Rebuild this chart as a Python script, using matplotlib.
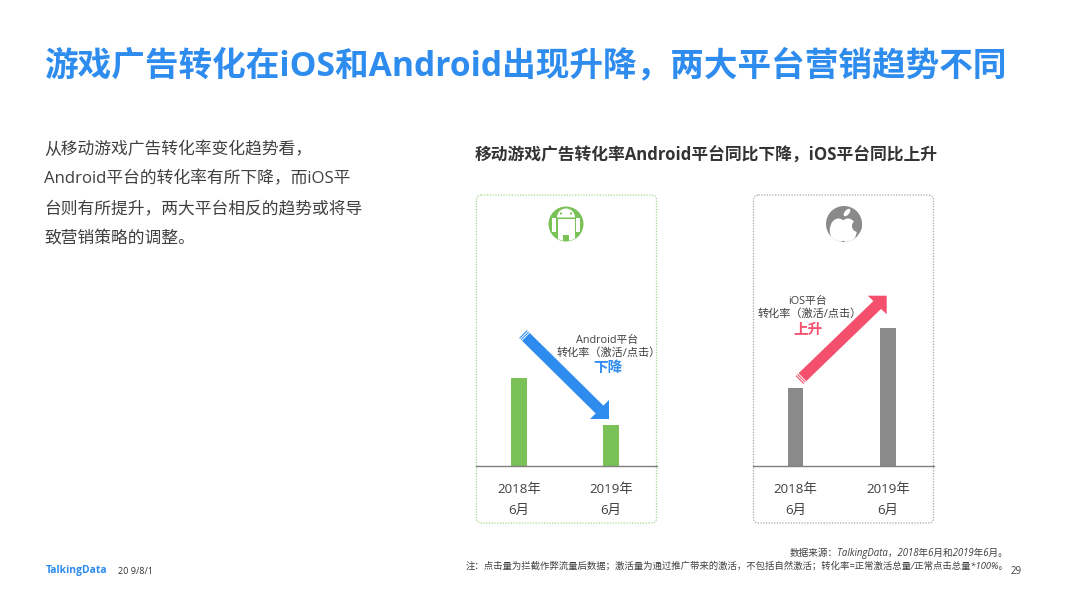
import matplotlib
matplotlib.use("Agg")
import matplotlib.pyplot as plt
from matplotlib.patches import FancyBboxPatch, Circle, Polygon, Rectangle, Ellipse, Wedge
import numpy as np

plt.rcParams['font.family'] = ['Open Sans', 'Noto Sans CJK SC', 'DejaVu Sans']

W, H = 1066, 599
title = "游戏广告转化在iOS和Android出现升降，两大平台营销趋势不同"
chart_title = "移动游戏广告转化率Android平台同比下降，iOS平台同比上升"
body_lines = ["从移动游戏广告转化率变化趋势看，",
              "Android平台的转化率有所下降，而iOS平",
              "台则有所提升，两大平台相反的趋势或将导",
              "致营销策略的调整。"]
periods = ["2018年\n6月", "2019年\n6月"]
android_values = [88, 41]
ios_values = [78, 138]
source_lines = ["数据来源：TalkingData，2018年6月和2019年6月。",
                "注：点击量为拦截作弊流量后数据；激活量为通过推广带来的激活，不包括自然激活；转化率=正常激活总量/正常点击总量*100%。"]

BLUE = "#2E8CEE"
GREEN = "#7AC257"
GRAY = "#8A8A8A"
RED = "#F4506E"
TEXT = "#404040"

fig = plt.figure(figsize=(W/100, H/100), dpi=100, facecolor="white")

def add_bar_axes(x0, x1, c0, c1, bw, values, color):
    top, base = 195, 466
    ax = fig.add_axes([x0/W, 1-base/H, (x1-x0)/W, (base-top)/H], facecolor="none", zorder=2)
    u = c1-c0
    ax.bar([0, 1], values, width=bw/u, color=color, linewidth=0)
    ax.set_xlim((x0-c0)/u, (x1-c0)/u)
    ax.set_ylim(0, base-top)
    ax.set_xticks([0, 1], periods, fontsize=9.6, color=TEXT, linespacing=1.78)
    ax.tick_params(axis='x', length=0, pad=12)
    ax.set_yticks([])
    for s in ['top', 'left', 'right']:
        ax.spines[s].set_visible(False)
    ax.spines['bottom'].set_color("#7F7F7F")
    ax.spines['bottom'].set_linewidth(1.0)
    return ax

add_bar_axes(476, 657, 519, 611, 16, android_values, GREEN)
add_bar_axes(753, 934, 795.5, 888, 15.5, ios_values, GRAY)

ov = fig.add_axes([0, 0, 1, 1], facecolor="none", zorder=1)
ov.set_xlim(0, W); ov.set_ylim(H, 0); ov.axis('off')
top = fig.add_axes([0, 0, 1, 1], facecolor="none", zorder=3)
top.set_xlim(0, W); top.set_ylim(H, 0); top.axis('off')

for x0, x1, ec in [(476.5, 656.5, "#A5D68C"), (753.5, 933.5, "#A6A6A6")]:
    ov.add_patch(FancyBboxPatch((x0+4, 199), x1-x0-8, 320, boxstyle="round,pad=4,rounding_size=5",
                                fc="white", ec=ec, lw=0.9, ls=(0, (1, 1.2))))

ov.text(44.5, 66, title, fontsize=24.2, fontweight='bold', color=BLUE, va='center', ha='left')
top.text(474.5, 156, chart_title, fontsize=12.1, fontweight='bold', color="#333333", va='center')
for line, y in zip(body_lines, [150, 179, 210, 240]):
    ov.text(44.5, y, line, fontsize=12.1, color=TEXT, va='center')

def arrow(start, tip, c1, c2, sw, color):
    start, tip, c1, c2 = map(np.array, (start, tip, c1, c2))
    mid = (c1+c2)/2
    d = (mid-start)/np.linalg.norm(mid-start)
    n = np.array([-d[1], d[0]])
    pts = [start+n*sw/2, mid+n*sw/2, c2 if np.dot(c2-mid, n) > 0 else c1, tip,
           c1 if np.dot(c2-mid, n) > 0 else c2, mid-n*sw/2, start-n*sw/2]
    top.add_patch(Polygon(pts, closed=True, fc=color, ec="none"))
    for k in (1.6, 3.6):
        p = start+d*k
        top.plot(*zip(p+n*sw/2, p-n*sw/2), color="white", lw=0.7)

arrow((523, 334), (609, 419), (590, 419), (609, 400), 11, BLUE)
arrow((799.5, 380), (886.7, 295.7), (867.7, 295.7), (886.7, 314.3), 11, RED)

top.text(607.5, 340, "Android平台", fontsize=7.8, color=TEXT, ha='center', va='center')
top.text(608.5, 353, "转化率（激活/点击）", fontsize=8, color=TEXT, ha='center', va='center')
top.text(607.5, 368, "下降", fontsize=10.5, fontweight='bold', color=BLUE, ha='center', va='center')
top.text(808, 301.5, "iOS平台", fontsize=7.8, color=TEXT, ha='center', va='center')
top.text(810, 314.5, "转化率（激活/点击）", fontsize=8, color=TEXT, ha='center', va='center')
top.text(808, 329.5, "上升", fontsize=10.5, fontweight='bold', color=RED, ha='center', va='center')

# Android icon
cx, cy = 566, 224
ov.add_patch(Circle((cx, cy), 17.5, fc=GREEN, ec="none", zorder=3))
android_clip = Circle((cx, cy), 17, transform=ov.transData)
ov.add_patch(Wedge((cx, cy-6.5), 9, 180, 0, fc="white", ec="none", zorder=4))
ov.add_patch(Rectangle((cx-8.5, cy-5), 17, 16, fc="white", ec="none", zorder=4))
ov.add_patch(Rectangle((cx-14, cy-6), 4, 14, fc="white", ec="none", zorder=4))
ov.add_patch(Rectangle((cx+10, cy-6), 4, 14, fc="white", ec="none", zorder=4))
for lx in (cx-8.5, cx+3):
    leg = Rectangle((lx, cy+10), 5.5, 8, fc="white", ec="none", zorder=4)
    ov.add_patch(leg); leg.set_clip_path(android_clip)
for dx in (-5, 5):
    ov.add_patch(Circle((cx+dx, cy-10.5), 1.1, fc=GREEN, ec="none", zorder=5))

# Apple icon
cx, cy = 844, 224
ov.add_patch(Circle((cx, cy), 18, fc=GRAY, ec="none", zorder=3))
clip = Circle((cx, cy), 18, transform=ov.transData)
for patch in [Ellipse((cx-5.5, cy+6.5), 17.5, 24), Ellipse((cx+4, cy+6.5), 17.5, 24)]:
    patch.set(fc="white", ec="none", zorder=4)
    ov.add_patch(patch); patch.set_clip_path(clip)
bite = Circle((cx+14, cy+2), 6, fc=GRAY, ec="none", zorder=5)
ov.add_patch(bite); bite.set_clip_path(clip)
ov.add_patch(Ellipse((cx+3, cy-11.5), 4.5, 9, angle=40, fc="white", ec="none", zorder=5))

ov.text(1008, 553.5, source_lines[0], fontsize=6.9, style='italic', color=TEXT, ha='right', va='center')
ov.text(1008, 565.5, source_lines[1], fontsize=6.75, style='italic', color=TEXT, ha='right', va='center')
ov.text(1016, 571, "29", fontsize=7, color=TEXT, ha='center', va='center')
ov.text(46, 571, "TalkingData", fontsize=7.5, fontweight='bold', color=BLUE, va='center')
ov.text(118, 571, "20 9/8/1", fontsize=6.5, color="#333333", va='center')

fig.savefig("out.png", dpi=100)
